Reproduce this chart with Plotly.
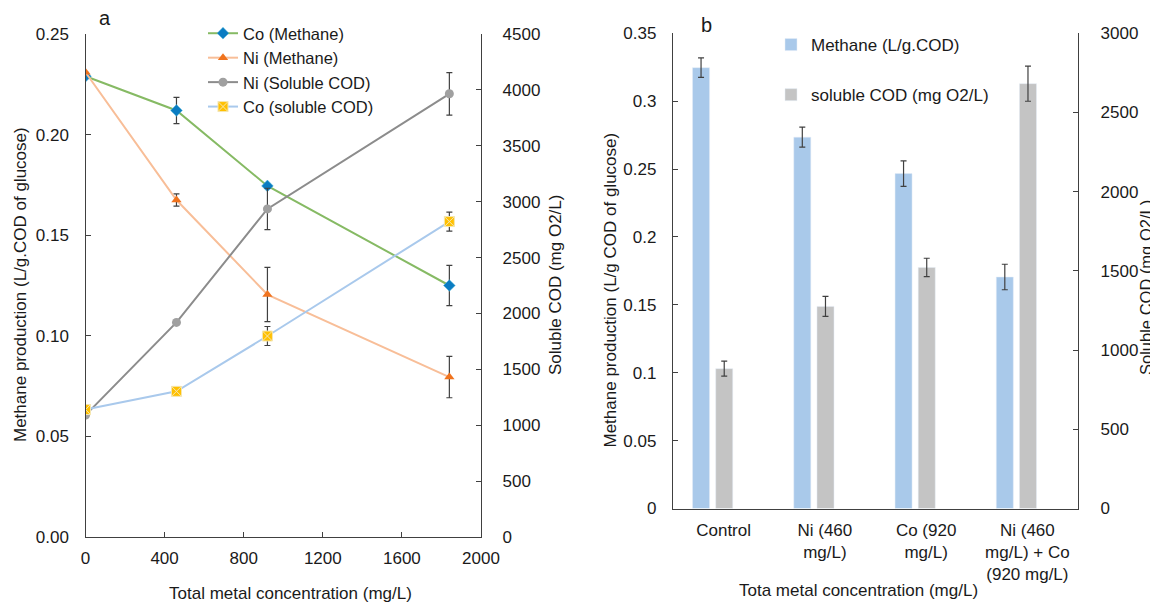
import plotly.graph_objects as go

# ---------- Panel a data ----------
conc = [0, 460, 920, 1840]
co_methane = [0.229, 0.212, 0.1745, 0.125]
co_methane_err = [0.0, 0.0065, 0.0, 0.010]
ni_methane = [0.231, 0.1675, 0.1205, 0.0795]
ni_methane_err = [0.0, 0.003, 0.0135, 0.0103]
ni_cod = [1090, 1920, 2935, 3965]
ni_cod_err = [0, 0, 185, 190]
co_cod = [1140, 1303, 1798, 2822]
co_cod_err = [0, 0, 85, 85]

# ---------- Panel b data ----------
categories = ["Control", "Ni (460 mg/L)", "Co (920 mg/L)", "Ni (460 mg/L) + Co (920 mg/L)"]
cat_labels = ["Control", "Ni (460<br>mg/L)", "Co (920<br>mg/L)", "Ni (460<br>mg/L) + Co<br>(920 mg/L)"]
methane_b = [0.3247, 0.2735, 0.2467, 0.1705]
methane_b_err = [0.0072, 0.0074, 0.0094, 0.0094]
cod_b = [883, 1276, 1522, 2682]
cod_b_err = [47, 63, 58, 111]

FONT = "Liberation Sans, Arial, sans-serif"
AX = "#404040"
TXT = "#1a1a1a"
FS = 17

# page has an 8px body margin; figure is sized to fit the 1158x604 window
OFF = 8
W, H = 1158 - OFF, 604 - OFF
def px(x):
    return (x - OFF) / W
def py(y):
    return 1 - (y - OFF) / H

fig = go.Figure()

def eb(arr):
    return dict(type="data", array=arr, color="#404040", thickness=1.2, width=3, visible=True)

fig.add_trace(go.Scatter(x=conc, y=co_methane, name="Co (Methane)", mode="lines+markers",
                         line=dict(color="#86BA64", width=2),
                         marker=dict(symbol="diamond", size=9, color="#0A7CC2", line=dict(color="#4FB8D8", width=0.5)),
                         error_y=eb(co_methane_err), xaxis="x", yaxis="y", legend="legend"))
fig.add_trace(go.Scatter(x=conc, y=ni_methane, name="Ni (Methane)", mode="lines+markers",
                         line=dict(color="#F8BE98", width=2),
                         marker=dict(symbol="triangle-up", size=9, color="#F0731E"),
                         error_y=eb(ni_methane_err), xaxis="x", yaxis="y", legend="legend"))
fig.add_trace(go.Scatter(x=conc, y=ni_cod, name="Ni (Soluble COD)", mode="lines+markers",
                         line=dict(color="#8C8C8C", width=2),
                         marker=dict(symbol="circle", size=9, color="#A0A0A0"),
                         error_y=eb(ni_cod_err), xaxis="x", yaxis="y2", legend="legend"))
fig.add_trace(go.Scatter(x=conc, y=co_cod, name="Co (soluble COD)", mode="lines+markers",
                         line=dict(color="#A9C9EC", width=2),
                         marker=dict(symbol="square-x", size=10, color="#FFC000", line=dict(color="#F5E6B0", width=1)),
                         error_y=eb(co_cod_err), xaxis="x", yaxis="y2", legend="legend"))

fig.add_trace(go.Bar(x=categories, y=methane_b, name="Methane (L/g.COD)",
                     marker=dict(color="#A9C9EA"), width=0.168, offset=-0.307,
                     error_y=eb(methane_b_err), xaxis="x2", yaxis="y3",
                     legend="legend2", legendgroup="m"))
fig.add_trace(go.Bar(x=categories, y=cod_b, name="soluble COD (mg O2/L)",
                     marker=dict(color="#C4C4C4"), width=0.168, offset=-0.078,
                     error_y=eb(cod_b_err), xaxis="x2", yaxis="y4",
                     legend="legend2", legendgroup="c"))

axis_common = dict(showgrid=False, zeroline=False, showline=True, linecolor=AX, linewidth=1.3,
                   ticks="inside", tickcolor=AX, ticklen=5, tickwidth=1.2, automargin=False,
                   tickfont=dict(family=FONT, size=FS, color=TXT))

def ann(text, x, y, angle=0, size=FS):
    return dict(text=text, x=px(x), y=py(y), xref="paper", yref="paper", showarrow=False,
                xanchor="center", yanchor="middle", textangle=angle,
                font=dict(family=FONT, size=size, color=TXT))

fig.update_layout(
    width=W, height=H,
    margin=dict(l=0, r=0, t=0, b=0, autoexpand=False),
    paper_bgcolor="white", plot_bgcolor="white",
    font=dict(family=FONT, color=TXT),
    showlegend=True,
    barmode="overlay",
    xaxis=dict(domain=[px(85.5), px(481)], range=[0, 2000], tickvals=[0, 400, 800, 1200, 1600, 2000],
               anchor="y", ticklabelstandoff=5, **axis_common),
    yaxis=dict(domain=[py(537), py(34)], range=[0, 0.25], tickvals=[0, 0.05, 0.10, 0.15, 0.20, 0.25],
               tickformat=".2f", anchor="x", ticklabelstandoff=12, **axis_common),
    yaxis2=dict(range=[0, 4500], tickvals=list(range(0, 4501, 500)), overlaying="y", side="right", anchor="x",
                ticklabelstandoff=17, **axis_common),
    xaxis2=dict(domain=[px(673), px(1078)], anchor="y3", type="category",
                tickvals=categories, ticktext=cat_labels, ticks="", automargin=False,
                showgrid=False, zeroline=False, showline=True, linecolor=AX, linewidth=1.3,
                ticklabelstandoff=6,
                tickfont=dict(family=FONT, size=FS, color=TXT)),
    yaxis3=dict(domain=[py(508.5), py(33.3)], range=[0, 0.35], tickvals=[0, 0.05, 0.1, 0.15, 0.2, 0.25, 0.3, 0.35],
                anchor="x2", ticklabelstandoff=12, **axis_common),
    yaxis4=dict(range=[0, 3000], tickvals=list(range(0, 3001, 500)), overlaying="y3", side="right", anchor="x2",
                ticklabelstandoff=18, **axis_common),
    legend=dict(x=px(203), y=py(16), xanchor="left", yanchor="top", bgcolor="rgba(0,0,0,0)",
                font=dict(family=FONT, size=16.5, color=TXT), itemwidth=30, tracegroupgap=0),
    legend2=dict(x=px(771), y=py(27), xanchor="left", yanchor="top", bgcolor="rgba(0,0,0,0)",
                 font=dict(family=FONT, size=FS, color=TXT), itemwidth=30, tracegroupgap=25),
    annotations=[
        ann("a", 105, 18, size=20),
        ann("b", 706, 25, size=20),
        ann("Methane production (L/g.COD of glucose)", 20, 285, angle=-90),
        ann("Soluble COD (mg O2/L)", 555, 285, angle=-90),
        ann("Total metal concentration (mg/L)", 290, 593),
        ann("Methane production (L/g COD of glucose)", 609.5, 290, angle=-90),
        ann("Soluble COD (mg O2/L)", 1146, 288, angle=-90, size=16.5),
        ann("Tota metal concentration (mg/L)", 858, 590),
    ],
)

fig.write_html("out.html")
